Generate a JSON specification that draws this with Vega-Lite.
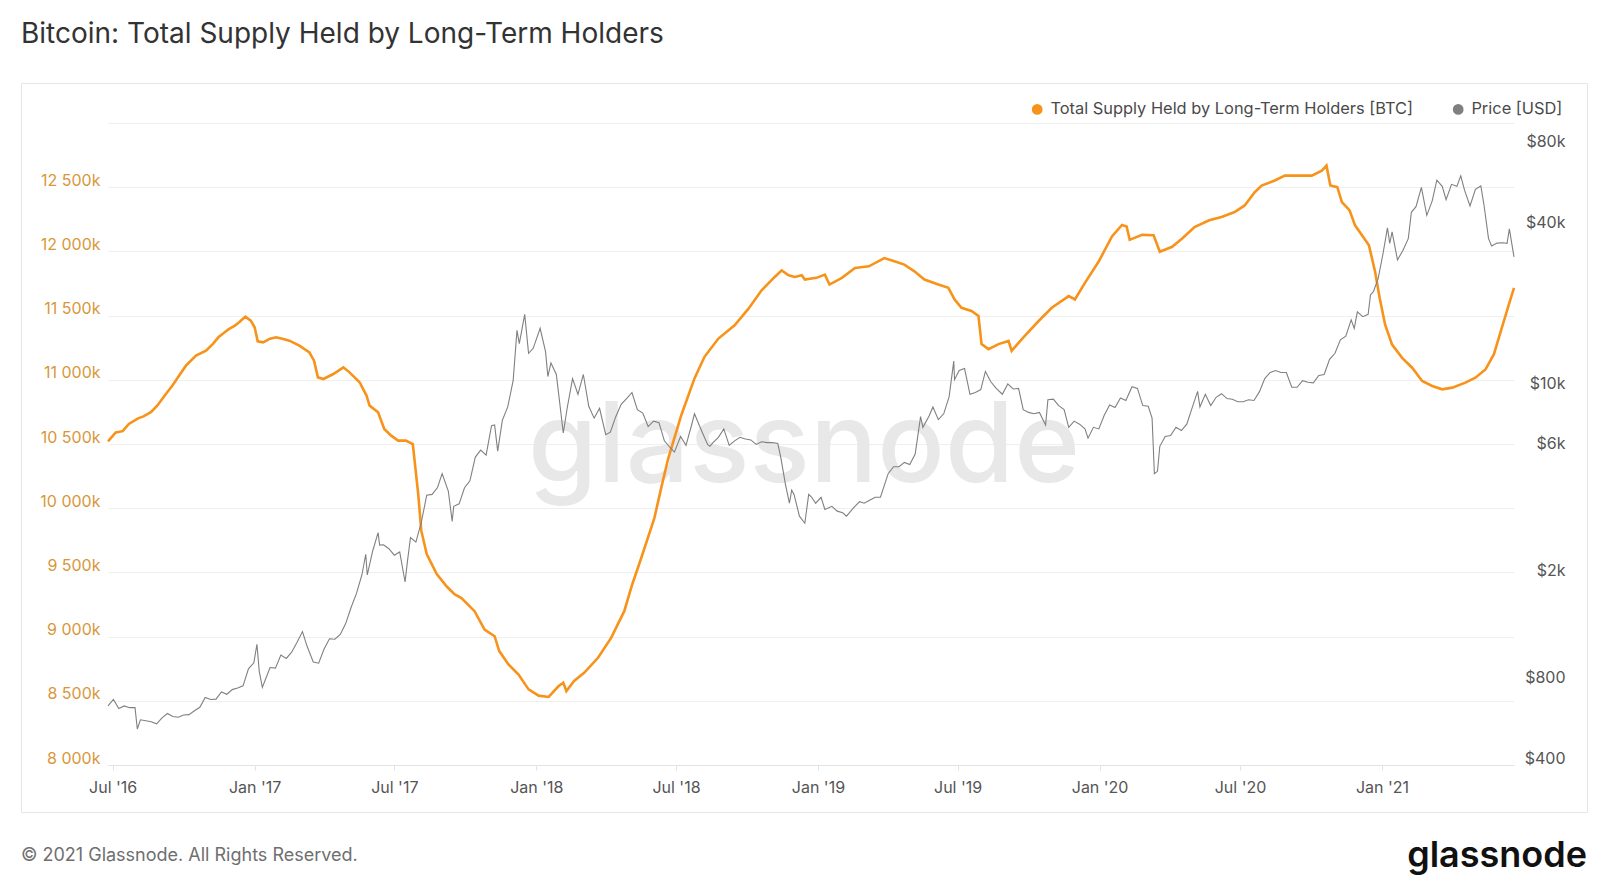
{
  "$schema": "https://vega.github.io/schema/vega-lite/v6.json",
  "autosize": {"type": "pad"},
  "padding": {"left": 20, "top": 20, "right": 17, "bottom": 11},
  "background": "white",
  "config": {
    "font": "Inter",
    "view": {"stroke": "#e6e6e6", "strokeWidth": 1}
  },
  "title": {
    "text": "Bitcoin: Total Supply Held by Long-Term Holders",
    "anchor": "start",
    "frame": "group",
    "fontSize": 28,
    "fontWeight": "normal",
    "color": "#333333",
    "offset": 34
  },
  "datasets": {
    "lth": [
      {"date": "2016-06-25", "supply": 10520000},
      {"date": "2016-07-05", "supply": 10590000},
      {"date": "2016-07-14", "supply": 10600000},
      {"date": "2016-07-22", "supply": 10656000},
      {"date": "2016-08-03", "supply": 10700000},
      {"date": "2016-08-10", "supply": 10715000},
      {"date": "2016-08-20", "supply": 10750000},
      {"date": "2016-08-28", "supply": 10800000},
      {"date": "2016-09-08", "supply": 10890000},
      {"date": "2016-09-17", "supply": 10960000},
      {"date": "2016-09-25", "supply": 11032000},
      {"date": "2016-10-04", "supply": 11110000},
      {"date": "2016-10-17", "supply": 11188000},
      {"date": "2016-10-30", "supply": 11227000},
      {"date": "2016-11-08", "supply": 11280000},
      {"date": "2016-11-15", "supply": 11331000},
      {"date": "2016-11-22", "supply": 11365000},
      {"date": "2016-11-29", "supply": 11396000},
      {"date": "2016-12-06", "supply": 11420000},
      {"date": "2016-12-12", "supply": 11448000},
      {"date": "2016-12-20", "supply": 11492000},
      {"date": "2016-12-27", "supply": 11461000},
      {"date": "2017-01-01", "supply": 11409000},
      {"date": "2017-01-05", "supply": 11300000},
      {"date": "2017-01-12", "supply": 11292000},
      {"date": "2017-01-21", "supply": 11320000},
      {"date": "2017-01-29", "supply": 11331000},
      {"date": "2017-02-07", "supply": 11318000},
      {"date": "2017-02-15", "supply": 11305000},
      {"date": "2017-02-28", "supply": 11266000},
      {"date": "2017-03-13", "supply": 11214000},
      {"date": "2017-03-19", "supply": 11149000},
      {"date": "2017-03-24", "supply": 11019000},
      {"date": "2017-03-31", "supply": 11006000},
      {"date": "2017-04-13", "supply": 11045000},
      {"date": "2017-04-26", "supply": 11097000},
      {"date": "2017-05-04", "supply": 11058000},
      {"date": "2017-05-17", "supply": 10981000},
      {"date": "2017-05-26", "supply": 10877000},
      {"date": "2017-05-30", "supply": 10799000},
      {"date": "2017-06-10", "supply": 10747000},
      {"date": "2017-06-18", "supply": 10617000},
      {"date": "2017-06-27", "supply": 10565000},
      {"date": "2017-07-06", "supply": 10526000},
      {"date": "2017-07-16", "supply": 10526000},
      {"date": "2017-07-25", "supply": 10500000},
      {"date": "2017-08-01", "supply": 10110000},
      {"date": "2017-08-05", "supply": 9825000},
      {"date": "2017-08-12", "supply": 9643000},
      {"date": "2017-08-25", "supply": 9487000},
      {"date": "2017-09-07", "supply": 9390000},
      {"date": "2017-09-17", "supply": 9330000},
      {"date": "2017-09-26", "supply": 9300000},
      {"date": "2017-10-13", "supply": 9198000},
      {"date": "2017-10-26", "supply": 9055000},
      {"date": "2017-11-08", "supply": 9003000},
      {"date": "2017-11-14", "supply": 8887000},
      {"date": "2017-11-26", "supply": 8783000},
      {"date": "2017-12-09", "supply": 8705000},
      {"date": "2017-12-22", "supply": 8589000},
      {"date": "2018-01-04", "supply": 8540000},
      {"date": "2018-01-17", "supply": 8530000},
      {"date": "2018-01-30", "supply": 8615000},
      {"date": "2018-02-05", "supply": 8641000},
      {"date": "2018-02-09", "supply": 8576000},
      {"date": "2018-02-19", "supply": 8654000},
      {"date": "2018-03-04", "supply": 8718000},
      {"date": "2018-03-22", "supply": 8835000},
      {"date": "2018-04-08", "supply": 8990000},
      {"date": "2018-04-25", "supply": 9198000},
      {"date": "2018-05-05", "supply": 9400000},
      {"date": "2018-05-17", "supply": 9612000},
      {"date": "2018-06-03", "supply": 9923000},
      {"date": "2018-06-12", "supply": 10160000},
      {"date": "2018-06-21", "supply": 10389000},
      {"date": "2018-07-08", "supply": 10726000},
      {"date": "2018-07-25", "supply": 11011000},
      {"date": "2018-08-07", "supply": 11179000},
      {"date": "2018-08-25", "supply": 11321000},
      {"date": "2018-09-15", "supply": 11425000},
      {"date": "2018-10-03", "supply": 11554000},
      {"date": "2018-10-20", "supply": 11697000},
      {"date": "2018-11-06", "supply": 11801000},
      {"date": "2018-11-15", "supply": 11852000},
      {"date": "2018-11-24", "supply": 11814000},
      {"date": "2018-12-02", "supply": 11801000},
      {"date": "2018-12-11", "supply": 11814000},
      {"date": "2018-12-15", "supply": 11781000},
      {"date": "2018-12-30", "supply": 11794000},
      {"date": "2019-01-10", "supply": 11819000},
      {"date": "2019-01-16", "supply": 11742000},
      {"date": "2019-02-01", "supply": 11794000},
      {"date": "2019-02-18", "supply": 11871000},
      {"date": "2019-03-08", "supply": 11884000},
      {"date": "2019-03-28", "supply": 11948000},
      {"date": "2019-04-10", "supply": 11923000},
      {"date": "2019-04-23", "supply": 11897000},
      {"date": "2019-05-06", "supply": 11845000},
      {"date": "2019-05-19", "supply": 11781000},
      {"date": "2019-06-06", "supply": 11742000},
      {"date": "2019-06-19", "supply": 11716000},
      {"date": "2019-06-27", "supply": 11626000},
      {"date": "2019-07-06", "supply": 11561000},
      {"date": "2019-07-19", "supply": 11536000},
      {"date": "2019-07-28", "supply": 11497000},
      {"date": "2019-08-01", "supply": 11278000},
      {"date": "2019-08-10", "supply": 11239000},
      {"date": "2019-08-23", "supply": 11278000},
      {"date": "2019-09-05", "supply": 11303000},
      {"date": "2019-09-09", "supply": 11226000},
      {"date": "2019-09-26", "supply": 11342000},
      {"date": "2019-10-14", "supply": 11458000},
      {"date": "2019-10-31", "supply": 11561000},
      {"date": "2019-11-22", "supply": 11652000},
      {"date": "2019-11-30", "supply": 11626000},
      {"date": "2019-12-13", "supply": 11755000},
      {"date": "2019-12-31", "supply": 11923000},
      {"date": "2020-01-17", "supply": 12116000},
      {"date": "2020-01-30", "supply": 12206000},
      {"date": "2020-02-05", "supply": 12194000},
      {"date": "2020-02-09", "supply": 12090000},
      {"date": "2020-02-25", "supply": 12129000},
      {"date": "2020-03-11", "supply": 12126000},
      {"date": "2020-03-19", "supply": 11997000},
      {"date": "2020-04-04", "supply": 12036000},
      {"date": "2020-04-17", "supply": 12100000},
      {"date": "2020-05-03", "supply": 12190000},
      {"date": "2020-05-22", "supply": 12242000},
      {"date": "2020-06-07", "supply": 12268000},
      {"date": "2020-06-24", "supply": 12307000},
      {"date": "2020-07-07", "supply": 12358000},
      {"date": "2020-07-20", "supply": 12461000},
      {"date": "2020-07-29", "supply": 12513000},
      {"date": "2020-08-15", "supply": 12552000},
      {"date": "2020-08-28", "supply": 12590000},
      {"date": "2020-09-15", "supply": 12590000},
      {"date": "2020-10-02", "supply": 12590000},
      {"date": "2020-10-15", "supply": 12629000},
      {"date": "2020-10-21", "supply": 12668000},
      {"date": "2020-10-26", "supply": 12513000},
      {"date": "2020-11-04", "supply": 12500000},
      {"date": "2020-11-10", "supply": 12384000},
      {"date": "2020-11-20", "supply": 12319000},
      {"date": "2020-11-27", "supply": 12203000},
      {"date": "2020-12-06", "supply": 12126000},
      {"date": "2020-12-15", "supply": 12048000},
      {"date": "2020-12-23", "supply": 11842000},
      {"date": "2020-12-29", "supply": 11636000},
      {"date": "2021-01-05", "supply": 11429000},
      {"date": "2021-01-14", "supply": 11274000},
      {"date": "2021-01-27", "supply": 11171000},
      {"date": "2021-02-09", "supply": 11094000},
      {"date": "2021-02-22", "supply": 10991000},
      {"date": "2021-03-07", "supply": 10952000},
      {"date": "2021-03-20", "supply": 10926000},
      {"date": "2021-04-02", "supply": 10939000},
      {"date": "2021-04-19", "supply": 10978000},
      {"date": "2021-05-02", "supply": 11016000},
      {"date": "2021-05-15", "supply": 11080000},
      {"date": "2021-05-26", "supply": 11200000},
      {"date": "2021-06-05", "supply": 11400000},
      {"date": "2021-06-14", "supply": 11580000},
      {"date": "2021-06-21", "supply": 11716000}
    ],
    "price": [
      {"date": "2016-06-25", "price": 665}, {"date": "2016-07-02", "price": 703},
      {"date": "2016-07-09", "price": 650}, {"date": "2016-07-16", "price": 665},
      {"date": "2016-07-23", "price": 655}, {"date": "2016-07-30", "price": 655},
      {"date": "2016-08-02", "price": 545}, {"date": "2016-08-06", "price": 590},
      {"date": "2016-08-13", "price": 585}, {"date": "2016-08-20", "price": 580},
      {"date": "2016-08-27", "price": 570}, {"date": "2016-09-03", "price": 600},
      {"date": "2016-09-10", "price": 623}, {"date": "2016-09-17", "price": 607},
      {"date": "2016-09-24", "price": 603}, {"date": "2016-10-01", "price": 615},
      {"date": "2016-10-08", "price": 617}, {"date": "2016-10-15", "price": 638},
      {"date": "2016-10-22", "price": 657}, {"date": "2016-10-29", "price": 715},
      {"date": "2016-11-05", "price": 703}, {"date": "2016-11-12", "price": 705},
      {"date": "2016-11-19", "price": 750}, {"date": "2016-11-26", "price": 735},
      {"date": "2016-12-03", "price": 765}, {"date": "2016-12-10", "price": 775},
      {"date": "2016-12-17", "price": 790}, {"date": "2016-12-24", "price": 915},
      {"date": "2016-12-31", "price": 963}, {"date": "2017-01-04", "price": 1130},
      {"date": "2017-01-07", "price": 895}, {"date": "2017-01-11", "price": 780},
      {"date": "2017-01-14", "price": 820}, {"date": "2017-01-21", "price": 925},
      {"date": "2017-01-28", "price": 920}, {"date": "2017-02-04", "price": 1030},
      {"date": "2017-02-11", "price": 1000}, {"date": "2017-02-18", "price": 1055},
      {"date": "2017-02-25", "price": 1150}, {"date": "2017-03-04", "price": 1260},
      {"date": "2017-03-10", "price": 1110}, {"date": "2017-03-18", "price": 970},
      {"date": "2017-03-25", "price": 960}, {"date": "2017-04-01", "price": 1085},
      {"date": "2017-04-08", "price": 1185}, {"date": "2017-04-15", "price": 1180},
      {"date": "2017-04-22", "price": 1230}, {"date": "2017-04-29", "price": 1350},
      {"date": "2017-05-06", "price": 1550}, {"date": "2017-05-13", "price": 1750},
      {"date": "2017-05-20", "price": 2050}, {"date": "2017-05-25", "price": 2450},
      {"date": "2017-05-27", "price": 2050}, {"date": "2017-06-03", "price": 2520},
      {"date": "2017-06-10", "price": 2950}, {"date": "2017-06-12", "price": 2650},
      {"date": "2017-06-17", "price": 2660}, {"date": "2017-06-24", "price": 2570},
      {"date": "2017-07-01", "price": 2430}, {"date": "2017-07-08", "price": 2500},
      {"date": "2017-07-15", "price": 1930}, {"date": "2017-07-18", "price": 2300},
      {"date": "2017-07-22", "price": 2830}, {"date": "2017-07-29", "price": 2720},
      {"date": "2017-08-05", "price": 3220}, {"date": "2017-08-12", "price": 4070},
      {"date": "2017-08-19", "price": 4100}, {"date": "2017-08-26", "price": 4350},
      {"date": "2017-09-01", "price": 4900}, {"date": "2017-09-09", "price": 4220},
      {"date": "2017-09-14", "price": 3250}, {"date": "2017-09-16", "price": 3700},
      {"date": "2017-09-23", "price": 3780}, {"date": "2017-09-30", "price": 4340},
      {"date": "2017-10-07", "price": 4610}, {"date": "2017-10-14", "price": 5650},
      {"date": "2017-10-21", "price": 6000}, {"date": "2017-10-28", "price": 5750},
      {"date": "2017-11-04", "price": 7400}, {"date": "2017-11-08", "price": 7450},
      {"date": "2017-11-12", "price": 5950}, {"date": "2017-11-18", "price": 7750},
      {"date": "2017-11-25", "price": 8700}, {"date": "2017-12-02", "price": 10900},
      {"date": "2017-12-07", "price": 16800}, {"date": "2017-12-10", "price": 15000},
      {"date": "2017-12-17", "price": 19300}, {"date": "2017-12-22", "price": 13800},
      {"date": "2017-12-28", "price": 14400}, {"date": "2018-01-06", "price": 17100},
      {"date": "2018-01-13", "price": 14000}, {"date": "2018-01-16", "price": 11300},
      {"date": "2018-01-20", "price": 12700}, {"date": "2018-01-27", "price": 11500},
      {"date": "2018-02-05", "price": 6950}, {"date": "2018-02-10", "price": 8600},
      {"date": "2018-02-17", "price": 11100}, {"date": "2018-02-24", "price": 9700},
      {"date": "2018-03-03", "price": 11500}, {"date": "2018-03-10", "price": 8750},
      {"date": "2018-03-17", "price": 7900}, {"date": "2018-03-24", "price": 8600},
      {"date": "2018-04-01", "price": 6850}, {"date": "2018-04-07", "price": 7000},
      {"date": "2018-04-14", "price": 8000}, {"date": "2018-04-21", "price": 8900},
      {"date": "2018-04-28", "price": 9350}, {"date": "2018-05-05", "price": 9850},
      {"date": "2018-05-12", "price": 8500}, {"date": "2018-05-19", "price": 8250},
      {"date": "2018-05-26", "price": 7350}, {"date": "2018-06-02", "price": 7700},
      {"date": "2018-06-09", "price": 7600}, {"date": "2018-06-16", "price": 6500},
      {"date": "2018-06-23", "price": 6150}, {"date": "2018-06-29", "price": 5900},
      {"date": "2018-07-07", "price": 6750}, {"date": "2018-07-14", "price": 6250},
      {"date": "2018-07-21", "price": 7400}, {"date": "2018-07-25", "price": 8200},
      {"date": "2018-08-04", "price": 7000}, {"date": "2018-08-11", "price": 6300},
      {"date": "2018-08-14", "price": 6200}, {"date": "2018-08-18", "price": 6400},
      {"date": "2018-08-25", "price": 6700}, {"date": "2018-09-01", "price": 7200},
      {"date": "2018-09-08", "price": 6250}, {"date": "2018-09-15", "price": 6500},
      {"date": "2018-09-22", "price": 6700}, {"date": "2018-09-29", "price": 6600},
      {"date": "2018-10-06", "price": 6550}, {"date": "2018-10-13", "price": 6300},
      {"date": "2018-10-20", "price": 6450}, {"date": "2018-10-27", "price": 6400},
      {"date": "2018-11-03", "price": 6400}, {"date": "2018-11-10", "price": 6350},
      {"date": "2018-11-14", "price": 5600}, {"date": "2018-11-20", "price": 4450},
      {"date": "2018-11-25", "price": 3800}, {"date": "2018-11-28", "price": 4250},
      {"date": "2018-12-01", "price": 4100}, {"date": "2018-12-08", "price": 3400},
      {"date": "2018-12-15", "price": 3200}, {"date": "2018-12-20", "price": 4100},
      {"date": "2018-12-24", "price": 4000}, {"date": "2018-12-29", "price": 3800},
      {"date": "2019-01-05", "price": 4000}, {"date": "2019-01-10", "price": 3600},
      {"date": "2019-01-19", "price": 3700}, {"date": "2019-01-26", "price": 3550},
      {"date": "2019-02-02", "price": 3500}, {"date": "2019-02-07", "price": 3400},
      {"date": "2019-02-16", "price": 3650}, {"date": "2019-02-24", "price": 3850},
      {"date": "2019-03-02", "price": 3800}, {"date": "2019-03-09", "price": 3900},
      {"date": "2019-03-16", "price": 4000}, {"date": "2019-03-23", "price": 4000},
      {"date": "2019-04-02", "price": 4900}, {"date": "2019-04-09", "price": 5200},
      {"date": "2019-04-16", "price": 5200}, {"date": "2019-04-23", "price": 5400},
      {"date": "2019-04-30", "price": 5300}, {"date": "2019-05-07", "price": 5800},
      {"date": "2019-05-14", "price": 8000}, {"date": "2019-05-17", "price": 7300},
      {"date": "2019-05-25", "price": 8050}, {"date": "2019-05-30", "price": 8700},
      {"date": "2019-06-06", "price": 7800}, {"date": "2019-06-13", "price": 8200},
      {"date": "2019-06-20", "price": 9500}, {"date": "2019-06-26", "price": 12900},
      {"date": "2019-06-27", "price": 11000}, {"date": "2019-07-03", "price": 11900},
      {"date": "2019-07-10", "price": 12100}, {"date": "2019-07-17", "price": 9700},
      {"date": "2019-07-24", "price": 9850}, {"date": "2019-07-31", "price": 10100},
      {"date": "2019-08-06", "price": 11800}, {"date": "2019-08-13", "price": 10800},
      {"date": "2019-08-20", "price": 10200}, {"date": "2019-08-28", "price": 9700},
      {"date": "2019-09-04", "price": 10600}, {"date": "2019-09-11", "price": 10150},
      {"date": "2019-09-18", "price": 10200}, {"date": "2019-09-24", "price": 8500},
      {"date": "2019-10-01", "price": 8300}, {"date": "2019-10-08", "price": 8200},
      {"date": "2019-10-15", "price": 8300}, {"date": "2019-10-23", "price": 7450},
      {"date": "2019-10-26", "price": 9250}, {"date": "2019-11-02", "price": 9300},
      {"date": "2019-11-09", "price": 8800}, {"date": "2019-11-16", "price": 8500},
      {"date": "2019-11-22", "price": 7300}, {"date": "2019-11-29", "price": 7700},
      {"date": "2019-12-06", "price": 7500}, {"date": "2019-12-13", "price": 7200},
      {"date": "2019-12-17", "price": 6650}, {"date": "2019-12-24", "price": 7300},
      {"date": "2019-12-31", "price": 7200}, {"date": "2020-01-07", "price": 8100},
      {"date": "2020-01-14", "price": 8850}, {"date": "2020-01-21", "price": 8650},
      {"date": "2020-01-28", "price": 9400}, {"date": "2020-02-04", "price": 9200},
      {"date": "2020-02-12", "price": 10350}, {"date": "2020-02-19", "price": 10200},
      {"date": "2020-02-26", "price": 8800}, {"date": "2020-03-04", "price": 8750},
      {"date": "2020-03-09", "price": 7900}, {"date": "2020-03-12", "price": 4900},
      {"date": "2020-03-16", "price": 5000}, {"date": "2020-03-19", "price": 6200},
      {"date": "2020-03-26", "price": 6750}, {"date": "2020-04-02", "price": 6800},
      {"date": "2020-04-09", "price": 7300}, {"date": "2020-04-16", "price": 7100},
      {"date": "2020-04-23", "price": 7500}, {"date": "2020-04-30", "price": 8650},
      {"date": "2020-05-07", "price": 9950}, {"date": "2020-05-10", "price": 8700},
      {"date": "2020-05-17", "price": 9700}, {"date": "2020-05-24", "price": 8800},
      {"date": "2020-05-31", "price": 9450}, {"date": "2020-06-07", "price": 9750},
      {"date": "2020-06-14", "price": 9350}, {"date": "2020-06-21", "price": 9300},
      {"date": "2020-06-28", "price": 9100}, {"date": "2020-07-05", "price": 9100},
      {"date": "2020-07-12", "price": 9250}, {"date": "2020-07-19", "price": 9200},
      {"date": "2020-07-26", "price": 9900}, {"date": "2020-08-02", "price": 11100},
      {"date": "2020-08-09", "price": 11700}, {"date": "2020-08-16", "price": 11900},
      {"date": "2020-08-23", "price": 11700}, {"date": "2020-08-30", "price": 11700},
      {"date": "2020-09-06", "price": 10300}, {"date": "2020-09-13", "price": 10300},
      {"date": "2020-09-20", "price": 10900}, {"date": "2020-09-27", "price": 10750},
      {"date": "2020-10-04", "price": 10700}, {"date": "2020-10-11", "price": 11400},
      {"date": "2020-10-18", "price": 11500}, {"date": "2020-10-25", "price": 13100},
      {"date": "2020-11-01", "price": 13800}, {"date": "2020-11-08", "price": 15500},
      {"date": "2020-11-15", "price": 16000}, {"date": "2020-11-22", "price": 18400},
      {"date": "2020-11-26", "price": 17100}, {"date": "2020-11-30", "price": 19700},
      {"date": "2020-12-07", "price": 18900}, {"date": "2020-12-14", "price": 19300},
      {"date": "2020-12-17", "price": 22800}, {"date": "2020-12-21", "price": 23500},
      {"date": "2020-12-27", "price": 26300}, {"date": "2021-01-02", "price": 32200},
      {"date": "2021-01-08", "price": 40600}, {"date": "2021-01-11", "price": 35500},
      {"date": "2021-01-14", "price": 39200}, {"date": "2021-01-21", "price": 30800},
      {"date": "2021-01-28", "price": 33400}, {"date": "2021-02-04", "price": 37000},
      {"date": "2021-02-08", "price": 46400}, {"date": "2021-02-14", "price": 48700},
      {"date": "2021-02-21", "price": 57500}, {"date": "2021-02-28", "price": 45200},
      {"date": "2021-03-07", "price": 51200}, {"date": "2021-03-13", "price": 61200},
      {"date": "2021-03-20", "price": 58000}, {"date": "2021-03-25", "price": 51700},
      {"date": "2021-04-01", "price": 59000}, {"date": "2021-04-08", "price": 58000},
      {"date": "2021-04-13", "price": 63500}, {"date": "2021-04-18", "price": 56000},
      {"date": "2021-04-25", "price": 49000}, {"date": "2021-05-02", "price": 56500},
      {"date": "2021-05-09", "price": 58200}, {"date": "2021-05-13", "price": 49700},
      {"date": "2021-05-19", "price": 37000}, {"date": "2021-05-23", "price": 34700},
      {"date": "2021-05-30", "price": 35600}, {"date": "2021-06-06", "price": 35700},
      {"date": "2021-06-12", "price": 35500}, {"date": "2021-06-15", "price": 40200},
      {"date": "2021-06-21", "price": 31600}
    ]
  },
  "spacing": 23,
  "vconcat": [
    {
      "width": 1566,
      "height": 729,
      "resolve": {"scale": {"y": "independent"}},
      "layer": [
        {
          "data": {"values": [{}]},
          "mark": {
            "type": "text",
            "text": "glassnode",
            "fontSize": 112,
            "fontWeight": 500,
            "color": "#e8e8e8",
            "align": "center",
            "baseline": "middle"
          }
        },
        {
          "data": {"name": "lth"},
          "mark": {"type": "line", "strokeWidth": 2.6},
          "encoding": {
            "x": {
              "field": "date",
              "type": "temporal",
              "scale": {"range": [87, 1493], "nice": false},
              "axis": {
                "title": null,
                "format": "%b '%y",
                "tickCount": {"interval": "month", "step": 6},
                "offset": -47,
                "grid": false,
                "domainColor": "#e3e3e3",
                "tickColor": "#e3e3e3",
                "tickSize": 5,
                "labelPadding": 9,
                "labelColor": "#555555",
                "labelFontSize": 16,
                "labelFlush": false,
                "labelOverlap": false
              }
            },
            "y": {
              "field": "supply",
              "type": "quantitative",
              "scale": {"domain": [8000000, 13000000], "range": [682, 40], "nice": false, "zero": false},
              "axis": {
                "orient": "left",
                "title": null,
                "offset": -87,
                "values": [8000000, 8500000, 9000000, 9500000, 10000000, 10500000, 11000000, 11500000, 12000000, 12500000, 13000000],
                "labelExpr": "datum.value > 12600000 ? '' : replace(format(datum.value / 1000, ','), ',', ' ') + 'k'",
                "grid": true,
                "gridColor": "#efefef",
                "domain": false,
                "ticks": false,
                "labelPadding": 8,
                "labelColor": "#d9973a",
                "labelFontSize": 16,
                "labelBaseline": "alphabetic",
                "labelOffset": -2
              }
            },
            "color": {
              "datum": "Total Supply Held by Long-Term Holders [BTC]",
              "type": "nominal",
              "scale": {
                "domain": ["Total Supply Held by Long-Term Holders [BTC]", "Price [USD]"],
                "range": ["#f7931a", "#808080"]
              },
              "legend": {
                "title": null,
                "orient": "none",
                "legendX": 1008,
                "legendY": 18,
                "direction": "horizontal",
                "labelFontSize": 16.4,
                "labelColor": "#4a4a4a",
                "labelLimit": 600,
                "columnPadding": 36,
                "labelOffset": 5,
                "symbolType": "circle",
                "encode": {
                  "symbols": {
                    "update": {
                      "shape": {"value": "circle"},
                      "size": {"value": 115},
                      "strokeWidth": {"value": 0},
                      "stroke": {"value": "transparent"},
                      "fill": {"signal": "datum.value === 'Price [USD]' ? '#808080' : '#f7931a'"},
                      "opacity": {"value": 1}
                    }
                  }
                }
              }
            }
          }
        },
        {
          "data": {"name": "price"},
          "mark": {"type": "line", "strokeWidth": 1.1},
          "encoding": {
            "x": {
              "field": "date",
              "type": "temporal",
              "scale": {"range": [87, 1493], "nice": false}
            },
            "y": {
              "field": "price",
              "type": "quantitative",
              "scale": {"type": "log", "domain": [400, 100000], "range": [682, 40], "nice": false},
              "axis": {
                "orient": "right",
                "title": null,
                "offset": -73,
                "values": [400, 800, 2000, 6000, 10000, 40000, 80000],
                "labelExpr": "datum.value >= 1000 ? '$' + (datum.value / 1000) + 'k' : '$' + datum.value",
                "grid": false,
                "domain": false,
                "ticks": false,
                "labelAlign": "right",
                "labelPadding": 51,
                "labelColor": "#555555",
                "labelFontSize": 16,
                "labelBaseline": "alphabetic",
                "labelOffset": -2
              }
            },
            "color": {"datum": "Price [USD]", "type": "nominal"}
          }
        }
      ]
    },
    {
      "width": 1566,
      "height": 40,
      "view": {"stroke": null},
      "data": {"values": [{}]},
      "layer": [
        {
          "mark": {
            "type": "text",
            "text": "© 2021 Glassnode. All Rights Reserved.",
            "align": "left",
            "baseline": "middle",
            "fontSize": 18,
            "color": "#6f6f6f"
          },
          "encoding": {
            "x": {"datum": 0, "type": "quantitative", "scale": {"domain": [0, 1], "nice": false, "zero": false}, "axis": null}
          }
        },
        {
          "mark": {
            "type": "text",
            "text": "glassnode",
            "align": "right",
            "baseline": "middle",
            "fontSize": 36,
            "fontWeight": 600,
            "color": "#111111"
          },
          "encoding": {
            "x": {"datum": 1, "type": "quantitative", "axis": null}
          }
        }
      ]
    }
  ]
}
